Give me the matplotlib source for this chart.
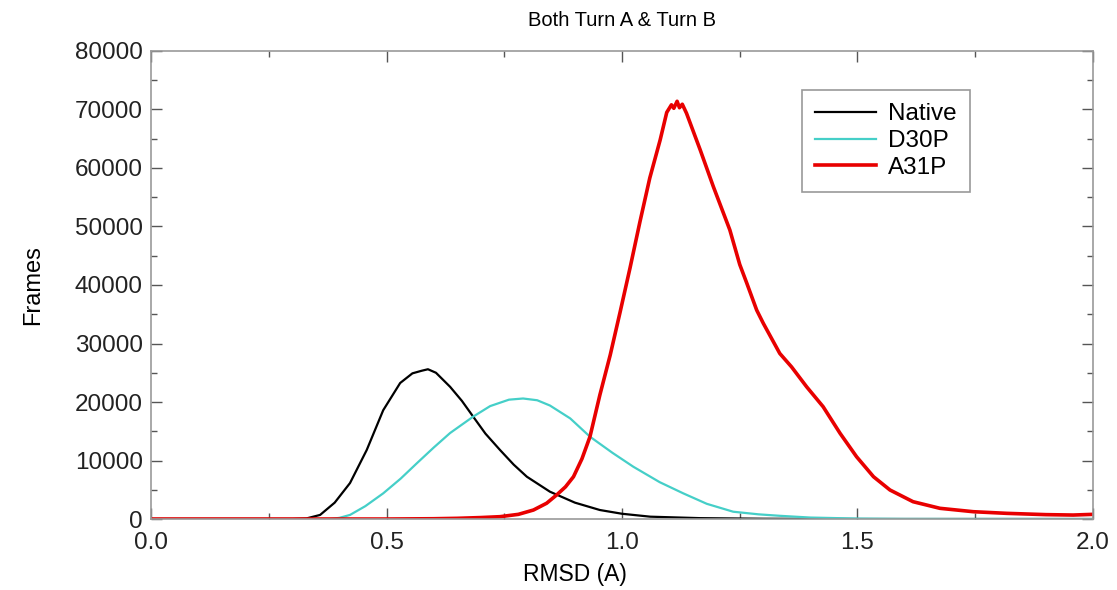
import matplotlib.pyplot as plt
from matplotlib.ticker import MultipleLocator

plt.rcParams['font.family'] = ['Liberation Sans', 'DejaVu Sans']

# RMSD histograms
native_x = [0.0, 0.30, 0.33, 0.359, 0.39, 0.4225, 0.458, 0.493, 0.529, 0.555, 0.575, 0.588,
            0.605, 0.635, 0.66, 0.684, 0.71, 0.741, 0.77, 0.798, 0.847, 0.9, 0.953, 1.0,
            1.06, 1.166, 1.3, 1.5, 2.0]
native_y = [0, 0, 100, 700, 2800, 6150, 11800, 18600, 23250, 24900, 25350, 25600,
            25000, 22600, 20200, 17500, 14600, 11800, 9300, 7230, 4670, 2800, 1540, 900,
            400, 150, 50, 0, 0]

d30p_x = [0.0, 0.38, 0.40, 0.4225, 0.455, 0.493, 0.53, 0.564, 0.60, 0.635, 0.684, 0.72,
          0.76, 0.79, 0.82, 0.847, 0.89, 0.932, 0.98, 1.024, 1.08, 1.13, 1.18, 1.236,
          1.29, 1.335, 1.4, 1.5, 1.6, 2.0]
d30p_y = [0, 0, 200, 700, 2200, 4390, 6900, 9500, 12200, 14700, 17500, 19300,
          20400, 20600, 20300, 19400, 17200, 14070, 11300, 8940, 6300, 4390, 2600, 1250,
          800, 550, 250, 80, 20, 0]

a31p_x = [0.0, 0.5, 0.6, 0.65, 0.70, 0.741, 0.78, 0.812, 0.84, 0.861, 0.88, 0.897,
          0.915, 0.932, 0.953, 0.975, 0.996, 1.017, 1.038, 1.059, 1.081, 1.095, 1.105,
          1.11, 1.117, 1.122, 1.128, 1.137, 1.166, 1.194, 1.229, 1.25, 1.265, 1.286,
          1.300, 1.335, 1.36, 1.392, 1.427, 1.463, 1.498, 1.534, 1.569, 1.618, 1.675,
          1.746, 1.817, 1.9, 1.958, 2.0]
a31p_y = [0, 0, 50, 120, 250, 400, 800, 1540, 2700, 4100, 5500, 7230,
          10300, 14070, 21200, 28040, 35380, 42900, 50770, 58290, 64790, 69500, 70800,
          70200, 71400, 70300, 70900, 69350, 63100, 56800, 49400, 43500, 40300, 35700,
          33450, 28300, 26000, 22600, 19200, 14650, 10650, 7230, 4960, 2960, 1830,
          1250, 970, 750, 680, 800]

fig = plt.figure(figsize=(11.17, 5.9), dpi=100)
ax = fig.add_axes([0.1352, 0.1203, 0.8433, 0.7933])

ax.plot(native_x, native_y, color='black', lw=1.6, label='Native')
ax.plot(d30p_x, d30p_y, color='#45CFC8', lw=1.6, label='D30P')
ax.plot(a31p_x, a31p_y, color='#E80000', lw=2.6, label='A31P')

ax.set_xlim(0, 2.0)
ax.set_ylim(0, 80000)
ax.xaxis.set_major_locator(MultipleLocator(0.5))
ax.xaxis.set_minor_locator(MultipleLocator(0.25))
ax.yaxis.set_major_locator(MultipleLocator(10000))
ax.yaxis.set_minor_locator(MultipleLocator(5000))
ax.xaxis.set_major_formatter(lambda v, p: f'{v:.1f}')

ax.tick_params(which='both', direction='in', top=True, right=True, color='#555555',
               labelsize=17.5, labelcolor='#222222')
ax.tick_params(which='major', length=8, width=1)
ax.tick_params(which='minor', length=4, width=1)
ax.tick_params(axis='x', pad=9)
ax.tick_params(axis='y', pad=6)
for s in ax.spines.values():
    s.set_color('#999999')
    s.set_linewidth(1.2)

ax.set_title('Both Turn A & Turn B', fontsize=14.5, pad=18)
ax.set_xlabel('RMSD (A)', fontsize=16.5)
ax.xaxis.set_label_coords(0.45, -0.095)
ax.set_ylabel('Frames', fontsize=17, labelpad=22)

leg = ax.legend(loc='upper left', bbox_to_anchor=(0.691, 0.917), fontsize=17.5,
                handlelength=2.5, fancybox=False, framealpha=1, borderpad=0.55,
                labelspacing=0.2, handletextpad=0.5, borderaxespad=0)
leg.get_frame().set_edgecolor('#999999')
leg.get_frame().set_linewidth(1.2)

fig.savefig('out.png', dpi=100)
